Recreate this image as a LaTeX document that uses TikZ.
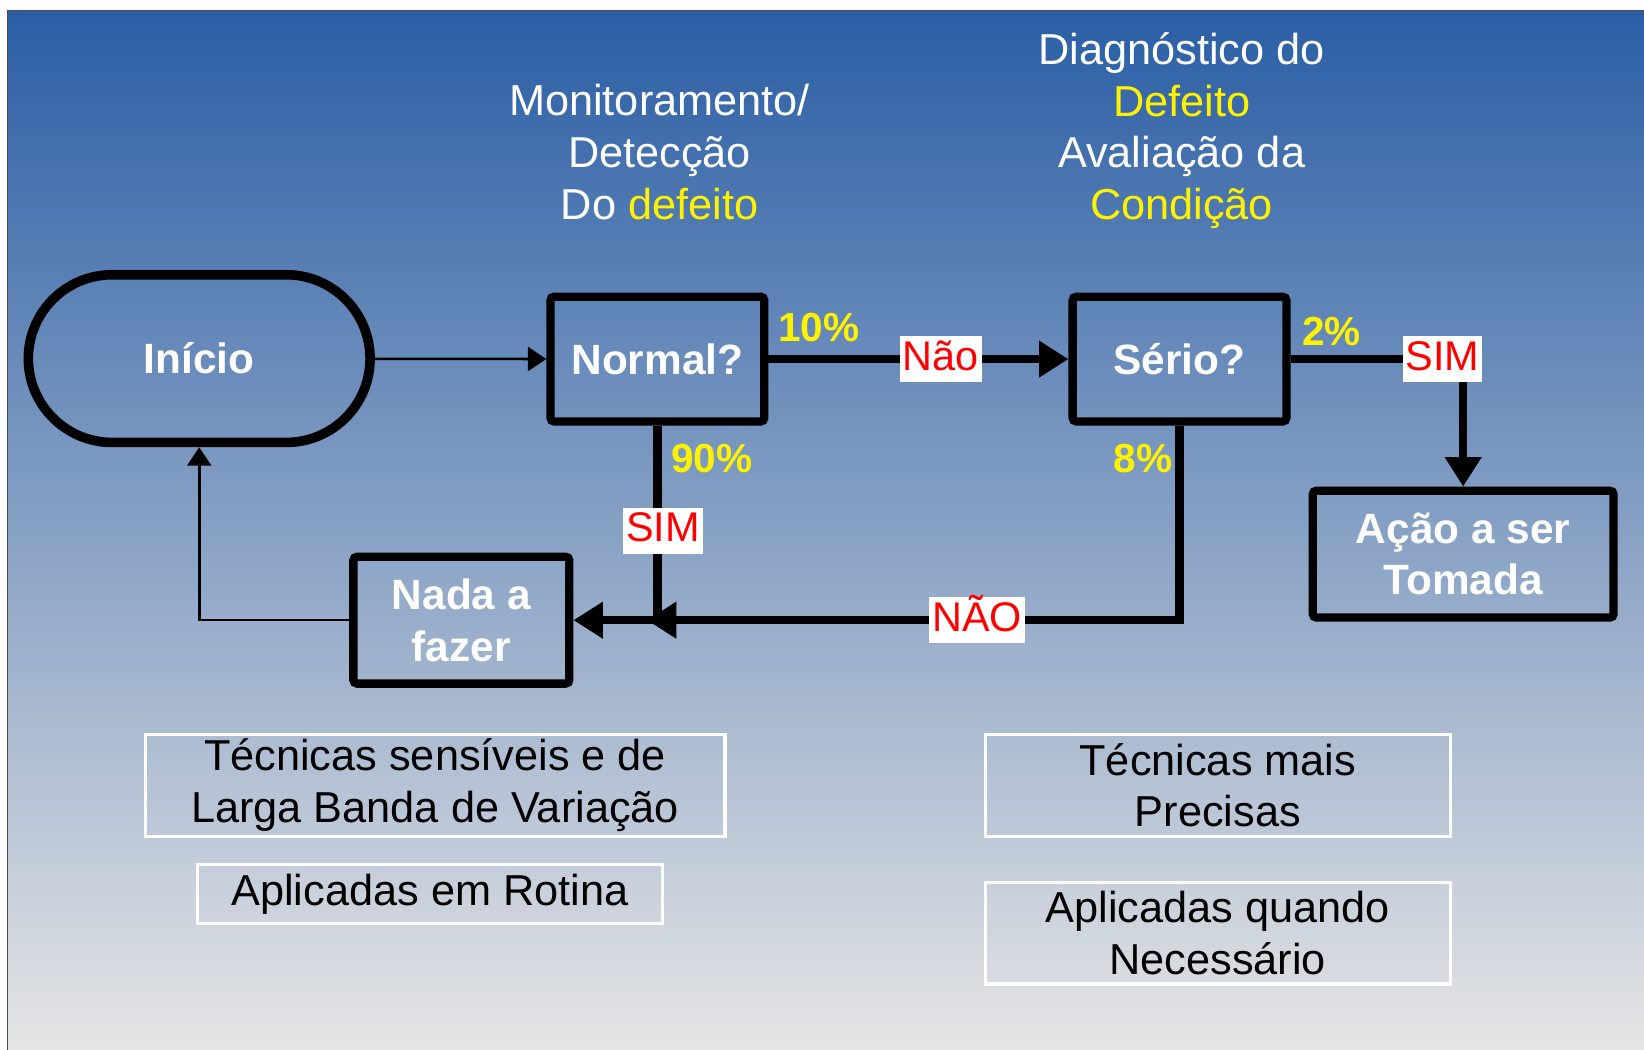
\documentclass[tikz,border=0pt]{standalone}
\usepackage{fontspec}
\setmainfont{Liberation Sans}
\usetikzlibrary{arrows.meta, positioning, calc}

\definecolor{bgtop}{RGB}{42,94,165}
\definecolor{bgbottom}{RGB}{229,229,229}

\begin{document}
\begin{tikzpicture}[x=0.02cm, y=-0.02cm,
    startstop/.style={rectangle, rounded corners=1.6cm, minimum width=6.52cm, minimum height=3.2cm,
                      draw=black, line width=5.2pt, text=white, font=\bfseries\fontsize{23}{28}\selectfont},
    process/.style={rectangle, rounded corners=2pt, minimum width=4.08cm, minimum height=2.38cm,
                    draw=black, line width=4.5pt, text=white, align=center,
                    font=\bfseries\fontsize{23}{28}\selectfont},
    note/.style={rectangle, draw=white, line width=1.7pt, minimum height=1.94cm, inner ysep=2pt,
                 align=center, text=black, font=\fontsize{23.5}{28}\selectfont},
    heading/.style={align=center, text=white, font=\fontsize{23.5}{28}\selectfont},
    pct/.style={text=yellow, font=\bfseries\fontsize{22}{26}\selectfont},
    answer/.style={fill=white, text=red, inner sep=1.5pt, text height=17pt, text depth=5pt,
                   font=\fontsize{22.5}{26}\selectfont},
    arrow/.style={-{Triangle[length=16pt, width=19pt]}, line width=4.5pt},
    thinarrow/.style={-{Triangle[length=10pt, width=13pt]}, line width=1.4pt}]

    \useasboundingbox (0,0) rectangle (1568,1001.4);
    \shade[top color=bgtop, bottom color=bgbottom] (7,10) rectangle (1568,1001.4);
    \draw[black!70, line width=0.6pt] (7,1001.4) -- (7,10) -- (1568,10);

    % Headings
    \node[heading] (monit) at (629,145) {Monitoramento/\\Detecção\\Do \textcolor{yellow}{defeito}};
    \node[heading] (diag) at (1127,124.5) {Diagnóstico do\\\textcolor{yellow}{Defeito}\\Avaliação da\\\textcolor{yellow}{Condição}};

    % Nodes
    \node[startstop] (inicio) at (190,342) {Início};
    \node[process] (normal) at (627,342.5) {Normal?};
    \node[process] (serio) at (1125,342.5) {Sério?};
    \node[process, minimum width=5.74cm, minimum height=2.42cm] (acao) at (1395.5,528.5) {Ação a ser\\Tomada};
    \node[process, minimum width=4.12cm, minimum height=2.42cm] (nada) at (440,591.5) {Nada a\\fazer};

    % Percentages
    \node[pct] (p10) at (781,312) {10\%};
    \node[pct] (p90) at (679,437) {90\%};
    \node[pct] (p8) at (1090,437) {8\%};
    \node[pct] (p2) at (1270,316) {2\%};

    % Notes
    \node[note, minimum width=11.06cm] (tec1) at (415,749) {Técnicas sensíveis e de\\Larga Banda de Variação};
    \node[note, minimum width=8.86cm, minimum height=1.12cm] (apl1) at (410,852.5) {Aplicadas em Rotina};
    \node[note, minimum width=8.88cm] (tec2) at (1161.5,749) {Técnicas mais\\Precisas};
    \node[note, minimum width=8.88cm] (apl2) at (1161.5,890) {Aplicadas quando\\Necessário};

    % Arrows
    \coordinate (join) at ($(normal.south |- nada.east)+(-10,0)$);
    \draw[thinarrow] (inicio) -- (normal);
    \draw[arrow] (normal) -- node[answer, pos=0.575] (nao1) {Não} (serio);
    \draw[arrow] (serio.east) -| node[answer, pos=0.44] (sim2) {SIM} (acao.north);
    \draw[arrow] (normal.south) |- node[answer, pos=0.27, xshift=3pt] (sim1) {SIM} (nada.east);
    \draw[arrow] (serio.south) |- node[answer, pos=0.69] (nao2) {NÃO} (join);
    \draw[thinarrow] (nada.west) -| (inicio.south);

\end{tikzpicture}
\end{document}
